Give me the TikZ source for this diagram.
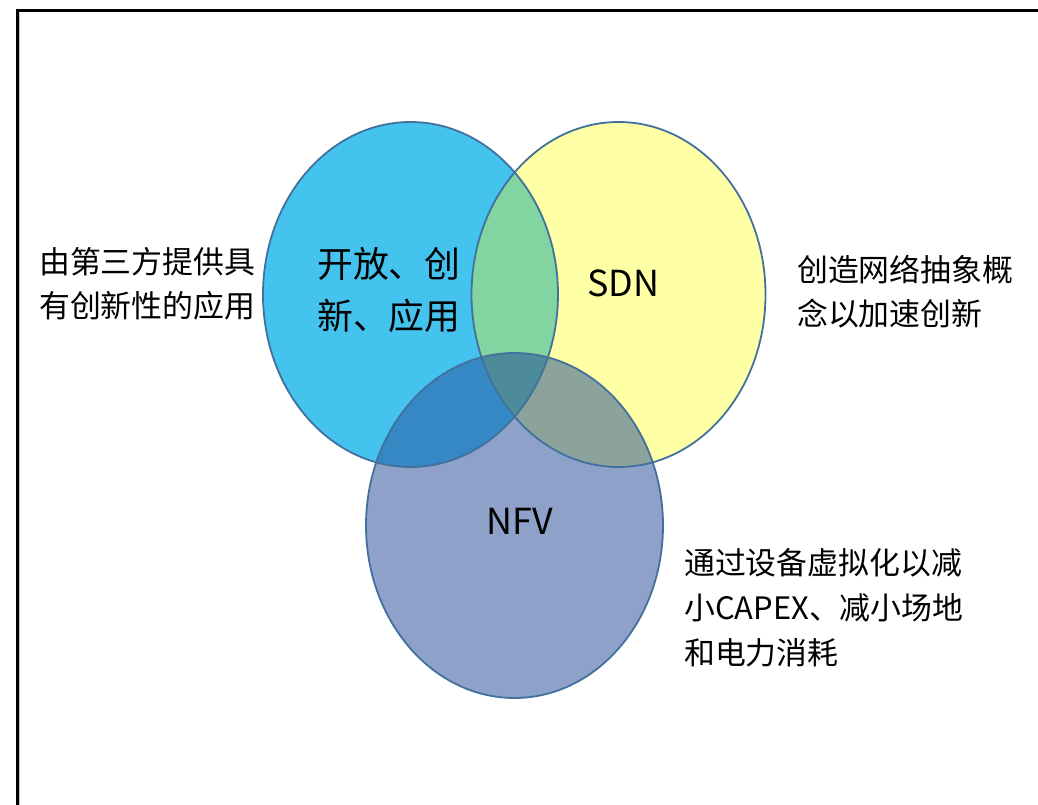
\documentclass[tikz,border=0pt]{standalone}
\usepackage{fontspec}
\setmainfont{Noto Sans CJK SC}
\definecolor{cBlue}{HTML}{44C3EF}
\definecolor{cYel}{HTML}{FFFFA6}
\definecolor{cNfv}{HTML}{8DA1C9}
\definecolor{cBY}{HTML}{82D5A0}
\definecolor{cBN}{HTML}{3588C3}
\definecolor{cYN}{HTML}{8BA39B}
\definecolor{cAll}{HTML}{4D8B9A}
\definecolor{cLine}{HTML}{41719C}
\tikzset{
  lbl/.style={inner sep=0pt, align=left, font=\fontsize{31}{44}\selectfont, text=black},
  big/.style={inner sep=0pt, align=left, font=\fontsize{36}{53}\selectfont, text=black},
  ring/.style={draw=cLine, line width=1.8bp},
}
\newcommand{\ellA}{(410.5,294.5) ellipse [x radius=147.5, y radius=172.5]}
\newcommand{\ellB}{(618.5,294.5) ellipse [x radius=147, y radius=172.5]}
\newcommand{\ellC}{(514.5,525.5) ellipse [x radius=148.5, y radius=172.5]}
\begin{document}
\begin{tikzpicture}[x=1bp,y=-1bp]
\useasboundingbox (0,0) rectangle (1038,805);
\fill[white] (0,0) rectangle (1038,805);
% frame
\draw[gray!50, line width=1bp] (19.5,13) -- (19.5,805);
\draw[black, line width=3bp] (17,805) -- (17,11) -- (1038,11);
% fills
\fill[cBlue] \ellA;
\fill[cYel] \ellB;
\fill[cNfv] \ellC;
\begin{scope}
  \clip \ellA;
  \fill[cBY] \ellB;
  \fill[cBN] \ellC;
  \clip \ellB;
  \fill[cAll] \ellC;
\end{scope}
\begin{scope}
  \clip \ellB;
  \clip \ellC;
  \begin{scope}[even odd rule]
    \clip \ellA (0,0) rectangle (1038,805);
    \fill[cYN] \ellC;
  \end{scope}
\end{scope}
% outlines
\draw[ring] \ellA;
\draw[ring] \ellB;
\draw[ring] \ellC;
% labels
\node[lbl, anchor=west] (l1) at (39,284) {由第三方提供具\\有创新性的应用};
\node[big, anchor=west] (l2) at (317,290) {开放、创\\新、应用};
\node[lbl, anchor=center, font=\fontsize{36}{40}\selectfont] (sdn) at (623,283) {SDN};
\node[lbl, anchor=center, font=\fontsize{36}{40}\selectfont] (nfv) at (520,521) {NFV};
\node[lbl, anchor=west] (r1) at (797,292) {创造网络抽象概\\念以加速创新};
\node[lbl, anchor=west, font=\fontsize{31}{45}\selectfont] (r2) at (684,608) {通过设备虚拟化以减\\小CAPEX、减小场地\\和电力消耗};
\end{tikzpicture}
\end{document}
